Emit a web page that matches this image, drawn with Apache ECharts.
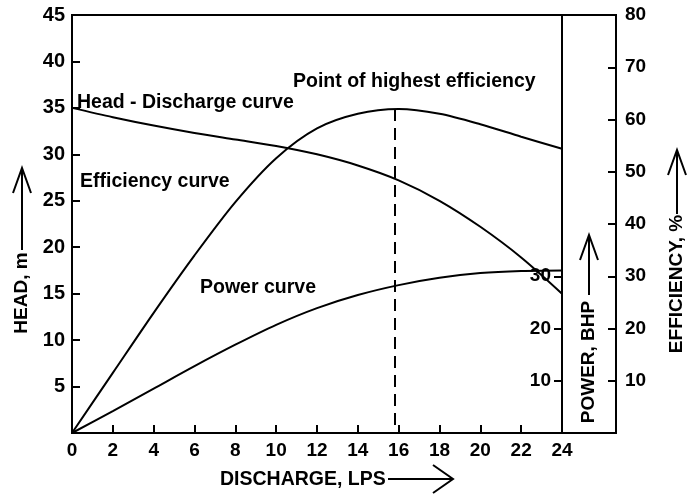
<!DOCTYPE html>
<html>
<head>
<meta charset="utf-8">
<script src="https://cdn.jsdelivr.net/npm/echarts@6/dist/echarts.min.js"></script>
<style>
  html, body { margin: 0; padding: 0; background: #fff; }
  #chart { width: 688px; height: 494px; }
</style>
</head>
<body>
<div id="chart"></div>
<script>
// ---- data ----
const discharge        = [0, 2, 4, 6, 8, 10, 12, 14, 16, 18, 20, 22, 24];          // LPS
const headValues       = [35, 34.0, 33.1, 32.3, 31.6, 30.9, 30.0, 28.8, 27.2, 25.0, 22.2, 18.9, 15.0]; // m
const efficiencyValues = [0, 11.5, 23.0, 34.0, 44.2, 52.6, 58.3, 61.1, 62.0, 61.1, 59.1, 56.7, 54.4];   // %
const powerValues      = [0, 4.2, 8.5, 12.8, 16.9, 20.7, 23.9, 26.4, 28.3, 29.7, 30.6, 31.0, 31.1];    // BHP
const bestDischarge    = 15.8;   // point of highest efficiency
const bestEfficiency   = 62.0;

const dischargeTicks   = [0, 2, 4, 6, 8, 10, 12, 14, 16, 18, 20, 22, 24];
const headTicks        = [5, 10, 15, 20, 25, 30, 35, 40, 45];
const powerTicks       = [10, 20, 30];
const efficiencyTicks  = [10, 20, 30, 40, 50, 60, 70, 80];

const FONT = '"Liberation Sans", Arial, sans-serif';
const pair = (xs, ys) => xs.map((x, i) => [x, ys[i]]);

const lineCommon = {
  type: 'line', smooth: 0.3, symbol: 'none', silent: true,
  lineStyle: { color: '#000', width: 2 }
};
const axisLine = { show: true, lineStyle: { color: '#000', width: 2 } };
const tick = { show: true, inside: true, length: 8, lineStyle: { color: '#000', width: 2 } };
const lbl = { color: '#000', fontFamily: FONT, fontWeight: 'bold', fontSize: 19 };

const chart = echarts.init(document.getElementById('chart'), null, { renderer: 'canvas' });

function arrowUp(x, tipY, tailY) {
  return [
    { type: 'polyline', shape: { points: [[x, tailY], [x, tipY]] }, style: { stroke: '#000', lineWidth: 2, fill: null } },
    { type: 'polyline', shape: { points: [[x - 9, tipY + 25], [x, tipY], [x + 9, tipY + 25]] }, style: { stroke: '#000', lineWidth: 2, fill: null } }
  ];
}
function vText(text, x, cy) {
  return { type: 'text', x: x, y: cy, rotation: Math.PI / 2,
    style: { text: text, font: 'bold 19px ' + FONT, fill: '#000', align: 'center', verticalAlign: 'middle' } };
}
function hText(text, x, cy) {
  return { type: 'text', x: x, y: cy,
    style: { text: text, font: 'bold 19.5px ' + FONT, fill: '#000', align: 'left', verticalAlign: 'middle' } };
}

chart.setOption({
  animation: false,
  backgroundColor: '#fff',
  grid: [
    { left: 72, top: 15, width: 490, height: 418, show: true, borderColor: '#000', borderWidth: 2 },
    { left: 562, top: 15, width: 54, height: 418, show: true, borderColor: '#000', borderWidth: 2 }
  ],
  xAxis: [
    { type: 'value', gridIndex: 0, min: 0, max: 24, interval: 2,
      axisLine: axisLine, axisTick: tick, splitLine: { show: false },
      axisLabel: Object.assign({ margin: 8, customValues: dischargeTicks }, lbl) },
    { type: 'value', gridIndex: 1, min: 0, max: 1, show: false }
  ],
  yAxis: [
    { type: 'value', gridIndex: 0, position: 'left', min: 0, max: 45, interval: 5,
      axisLine: axisLine, axisTick: Object.assign({}, tick, { customValues: headTicks }),
      splitLine: { show: false },
      axisLabel: Object.assign({ margin: 7, customValues: headTicks }, lbl, { fontSize: 20 }) },
    { type: 'value', gridIndex: 0, position: 'right', min: 0, max: 80,
      axisLine: axisLine, axisTick: Object.assign({}, tick, { customValues: powerTicks }),
      splitLine: { show: false },
      axisLabel: Object.assign({ inside: true, margin: 11, customValues: powerTicks }, lbl) },
    { type: 'value', gridIndex: 0, position: 'right', offset: 54, min: 0, max: 80, interval: 10,
      axisLine: axisLine, axisTick: Object.assign({}, tick, { customValues: efficiencyTicks }),
      splitLine: { show: false },
      axisLabel: Object.assign({ margin: 9, customValues: efficiencyTicks }, lbl) },
    { type: 'value', gridIndex: 1, min: 0, max: 1, show: false }
  ],
  series: [
    Object.assign({ name: 'Head - Discharge curve', xAxisIndex: 0, yAxisIndex: 0, data: pair(discharge, headValues) }, lineCommon),
    Object.assign({ name: 'Efficiency curve', xAxisIndex: 0, yAxisIndex: 2, data: pair(discharge, efficiencyValues),
      markLine: { silent: true, symbol: 'none', label: { show: false },
        lineStyle: { color: '#000', width: 2, type: [12, 7] },
        data: [[{ coord: [bestDischarge, bestEfficiency] }, { coord: [bestDischarge, 0] }]] } }, lineCommon),
    Object.assign({ name: 'Power curve', xAxisIndex: 0, yAxisIndex: 1, data: pair(discharge, powerValues) }, lineCommon)
  ],
  graphic: [
    hText('Head - Discharge curve', 77, 103),
    hText('Efficiency curve', 80, 182),
    hText('Point of highest efficiency', 293, 82),
    hText('Power curve', 200, 288),
    { type: 'text', x: 220, y: 480, style: { text: 'DISCHARGE, LPS', font: 'bold 19.5px ' + FONT, fill: '#000', align: 'left', verticalAlign: 'middle' } },
    { type: 'polyline', shape: { points: [[388, 479], [453, 479]] }, style: { stroke: '#000', lineWidth: 2, fill: null } },
    { type: 'polyline', shape: { points: [[433, 465], [453, 479], [433, 493]] }, style: { stroke: '#000', lineWidth: 2, fill: null } },
    vText('HEAD, m', 22, 293),
    ...arrowUp(22, 168, 250),
    vText('POWER, BHP', 589, 362),
    ...arrowUp(589, 235, 295),
    vText('EFFICIENCY, %', 677, 284),
    ...arrowUp(677, 150, 214)
  ]
});
</script>
</body>
</html>
